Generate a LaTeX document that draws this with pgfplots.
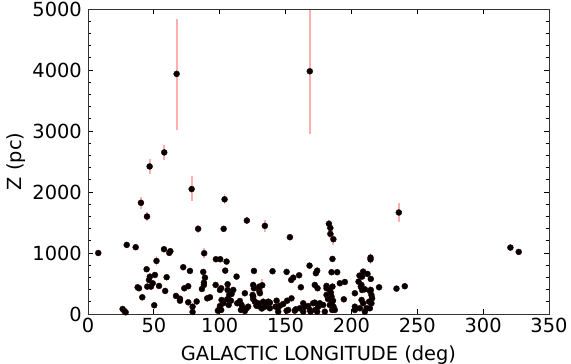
\documentclass[border=0pt]{standalone}
\usepackage{pgfplots}
\pgfplotsset{compat=1.18}
\usepackage{pgfplotstable}
\usepackage{fontspec}
\setmainfont{DejaVu Sans}
\definecolor{errpink}{RGB}{255,175,175}
\definecolor{markedge}{RGB}{45,0,0}

\pgfplotstableread{
x y ep em
7.8 1000 0 0
26.3 82 0 0
27.6 49 0 0
28.6 28 0 0
29.4 1133 0 0
36.2 1095 0 0
37.7 438 0 0
38.7 422 0 0
40.2 1823 100 100
41.2 274 0 0
44.5 734 0 0
44.8 1598 80 80
45.0 449 0 0
46.8 2419 130 130
47.0 613 0 0
46.3 558 0 0
47.8 449 0 0
49.1 504 0 0
50.3 143 0 0
50.8 640 0 0
52.0 870 80 80
53.9 460 0 0
57.7 1062 0 0
57.9 2649 120 120
58.6 378 0 0
59.7 603 0 0
61.7 1002 0 0
62.5 1030 0 0
66.8 296 0 0
67.3 3936 908 926
69.8 251 0 0
69.8 218 0 0
72.3 767 0 0
73.1 422 0 0
76.1 455 0 0
76.1 192 0 0
77.4 706 0 0
78.7 2048 210 200
79.4 120 0 0
79.4 33 0 0
82.5 205 0 0
83.6 1396 60 60
86.5 410 0 0
87.5 690 0 0
88.0 476 0 0
88.2 996 80 80
88.8 596 0 0
88.0 514 0 0
90.5 257 0 0
92.6 274 0 0
96.9 476 0 0
97.1 898 0 0
100.4 898 0 0
101.1 422 0 0
103.0 1396 0 0
103.7 1880 80 80
104.2 711 0 0
105.2 859 0 0
106.0 488 0 0
106.0 394 0 0
100.2 394 0 0
101.4 230 0 0
102.7 176 0 0
100.2 131 0 0
99.6 77 0 0
101.1 66 0 0
98.6 54 0 0
106.8 148 0 0
105.7 241 0 0
107.2 312 0 0
108.5 218 0 0
109.0 328 0 0
110.3 394 0 0
112.8 613 0 0
113.3 176 0 0
115.3 213 0 0
116.6 148 0 0
117.8 94 0 0
119.1 49 0 0
116.1 66 0 0
119.1 340 0 0
120.6 1532 60 60
121.6 120 0 0
120.4 94 0 0
125.4 284 0 0
125.4 246 0 0
125.0 312 0 0
126.0 422 0 0
125.4 476 0 0
126.0 706 0 0
126.7 202 0 0
127.9 136 0 0
129.2 176 0 0
130.0 378 0 0
130.0 449 0 0
130.5 340 0 0
130.5 120 0 0
132.0 90 0 0
132.3 471 100 100
133.0 202 0 0
134.3 164 0 0
134.3 1445 100 100
134.3 120 0 0
136.8 131 0 0
136.8 202 0 0
138.1 186 0 0
138.1 94 0 0
140.1 701 0 0
142.4 120 0 0
143.2 218 0 0
144.4 110 0 0
144.4 38 0 0
145.7 136 0 0
148.2 164 0 0
150.8 690 0 0
150.8 54 0 0
151.2 218 0 0
152.0 66 0 0
153.3 1259 40 40
154.3 558 0 0
154.5 257 0 0
155.8 596 0 0
157.0 54 0 0
157.8 77 0 0
160.3 635 0 0
160.8 94 0 0
161.6 438 0 0
163.4 176 0 0
163.4 38 0 0
164.6 120 0 0
167.1 131 0 0
168.4 3979 1000 1030
168.2 793 0 0
168.5 66 0 0
169.0 38 0 0
170.9 176 0 0
172.2 186 0 0
172.2 476 0 0
172.7 66 0 0
173.0 668 0 0
174.0 711 0 0
174.0 38 0 0
174.3 422 0 0
174.8 120 0 0
176.0 176 0 0
178.5 148 0 0
179.8 38 0 0
181.1 460 0 0
181.1 422 0 0
181.1 312 0 0
182.2 246 0 0
182.9 1480 60 60
183.6 148 0 0
183.6 394 0 0
184.0 1410 60 60
184.0 1314 70 70
184.4 350 0 0
184.9 284 0 0
184.9 685 0 0
184.9 230 0 0
185.4 66 0 0
185.6 449 0 0
185.6 903 0 0
186.0 218 0 0
186.3 1226 100 100
186.4 120 0 0
185.0 164 0 0
187.4 66 0 0
189.2 685 0 0
191.2 504 0 0
194.2 241 0 0
195.0 525 0 0
202.6 340 0 0
202.6 120 0 0
202.6 66 0 0
205.4 530 0 0
206.1 629 0 0
206.4 94 0 0
207.1 449 0 0
207.6 476 0 0
207.7 230 0 0
208.1 394 0 0
208.1 613 0 0
208.9 695 0 0
208.9 176 0 0
210.2 405 0 0
210.2 38 0 0
211.5 94 0 0
212.2 657 0 0
213.4 202 0 0
214.0 378 80 80
214.5 925 80 80
214.5 895 80 80
214.7 575 0 0
214.7 394 0 0
215.2 312 0 0
215.2 176 0 0
215.7 257 0 0
214.0 94 0 0
221.0 438 0 0
234.2 416 0 0
236.0 1664 150 150
240.5 455 0 0
320.7 1089 0 0
327.0 1018 0 0
}\data

\begin{document}
\begin{tikzpicture}
\useasboundingbox (-88pt,-50pt) rectangle (483pt,314pt);
\begin{axis}[
  at={(0,0)}, anchor=south west,
  scale only axis, width=461pt, height=305pt,
  xmin=0, xmax=350, ymin=0, ymax=5000,
  xtick={0,50,...,350}, ytick={0,1000,...,5000},
  minor y tick num=4,
  tick align=inside,
  xtick pos=both, ytick pos=both,
  xticklabel pos=lower, yticklabel pos=left,
  major tick length=5pt, minor tick length=3pt,
  tick style={black, line width=0.8pt},
  axis line style={black!80, line width=0.9pt},
  scaled ticks=false,
  /pgf/number format/assume math mode=true,
  /pgf/number format/1000 sep={},
  tick label style={font=\fontsize{19.4}{21}\selectfont, inner sep=0pt},
  xticklabel style={yshift=-4pt},
  yticklabel style={xshift=-6pt},
  label style={font=\fontsize{19.4}{21}\selectfont},
  xlabel={GALACTIC LONGITUDE (deg)},
  ylabel={Z (pc)},
  xlabel style={at={(axis description cs:0.5,-0.152)}, anchor=base, inner sep=0pt},
  ylabel style={at={(axis description cs:-0.1432,0.5)}, anchor=base, inner sep=0pt},
  clip=true,
]
\addplot[only marks, mark=*, mark size=3pt,
  mark options={fill=black, draw=markedge, line width=0.4pt},
  error bars/.cd, y dir=both, y explicit,
  error mark=none,
  error bar style={draw=errpink, line width=1.8pt, line cap=butt}]
  table[x=x, y=y, y error plus=ep, y error minus=em] {\data};
\end{axis}
\end{tikzpicture}
\end{document}
